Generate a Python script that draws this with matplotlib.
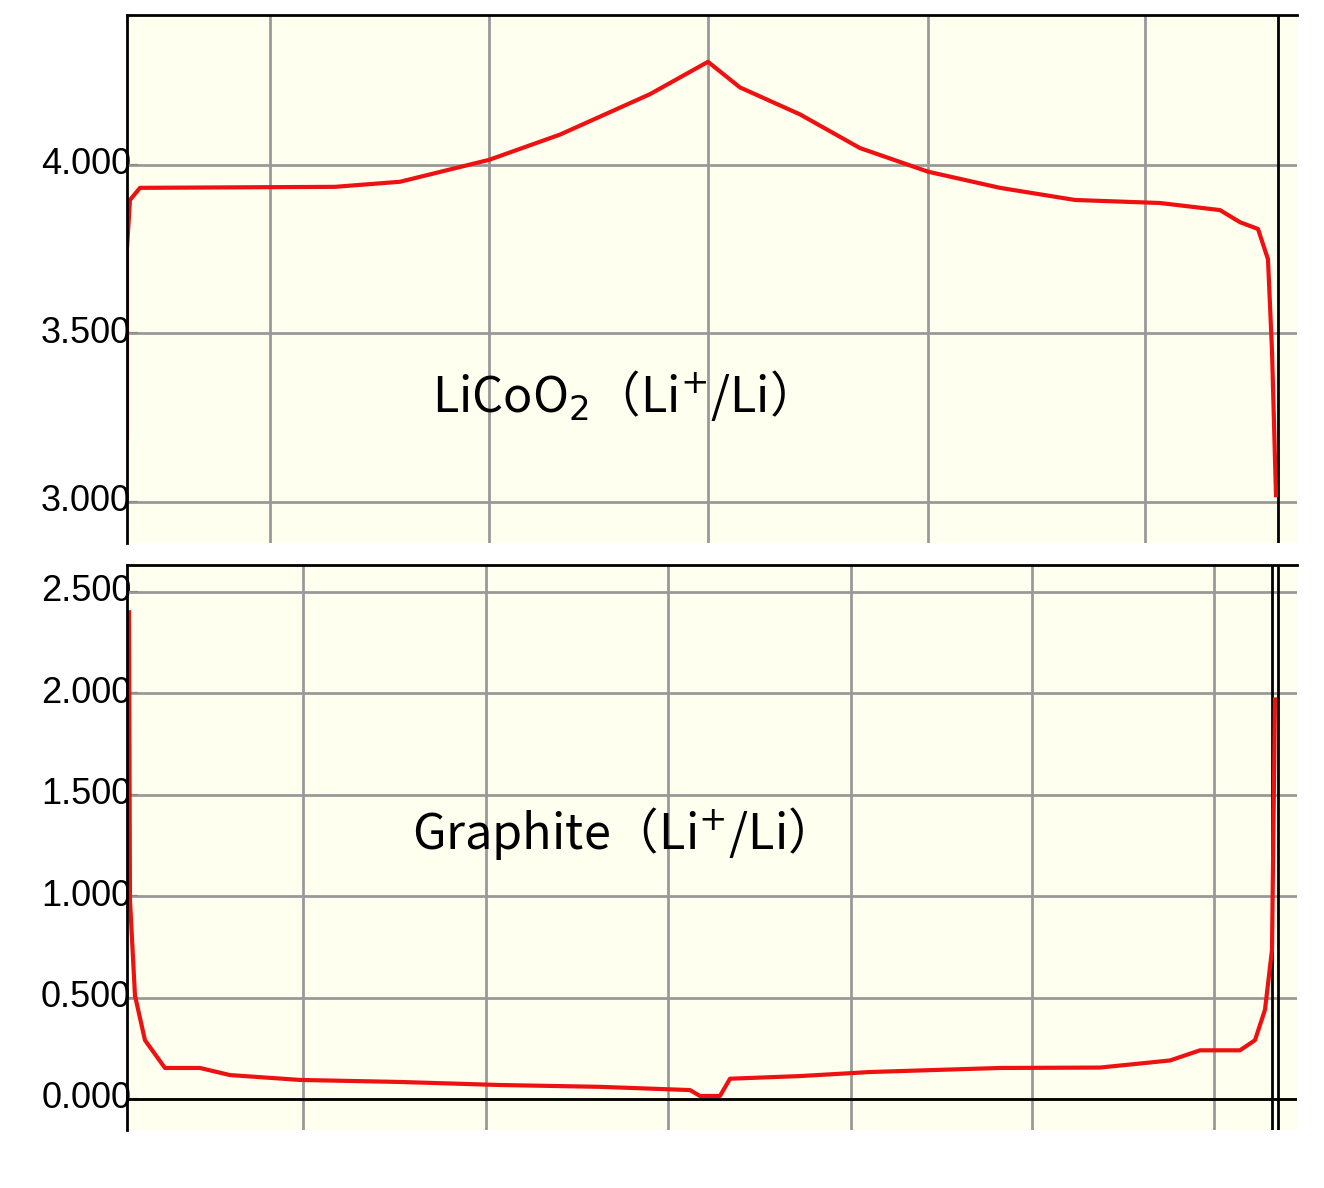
import matplotlib
matplotlib.use("Agg")
import matplotlib.pyplot as plt

top_x = [0, 0, 3, 13, 208, 273, 362, 433, 523, 581, 613, 673, 733, 801, 873, 948, 1033, 1093, 1113, 1131, 1141, 1145, 1149]
top_y = [3.19, 3.75, 3.896, 3.932, 3.935, 3.95, 4.015, 4.09, 4.21, 4.306, 4.23, 4.15, 4.05, 3.98, 3.932, 3.896, 3.887, 3.866, 3.83, 3.81, 3.72, 3.45, 3.02]
bot_x = [2, 3, 8, 18, 38, 73, 103, 173, 273, 373, 473, 563, 573, 593, 603, 673, 743, 873, 973, 1043, 1073, 1113, 1128, 1138, 1145, 1148]
bot_y = [2.40, 0.98, 0.51, 0.29, 0.153, 0.153, 0.118, 0.094, 0.084, 0.069, 0.06, 0.044, 0.015, 0.015, 0.10, 0.113, 0.133, 0.153, 0.155, 0.19, 0.24, 0.24, 0.29, 0.44, 0.735, 1.97]
top_grid_x = [143, 362, 581, 801, 1018]
bot_grid_x = [176, 359, 541, 724, 905, 1087]
top_yticks = [3.0, 3.5, 4.0]
bot_yticks = [0.0, 0.5, 1.0, 1.5, 2.0, 2.5]

bg = "#fffff0"
fig = plt.figure(figsize=(13.24, 11.88), dpi=100)
ax1 = fig.add_axes([0.0959, 0.5429, 0.8837, 0.4445])
ax2 = fig.add_axes([0.0959, 0.0488, 0.8837, 0.4756])

for ax, gx, yt, lim in [(ax1, top_grid_x, top_yticks, (2.878, 4.445)),
                        (ax2, bot_grid_x, bot_yticks, (-0.153, 2.633))]:
    ax.set_facecolor(bg)
    ax.set_xlim(0, 1170)
    ax.set_ylim(*lim)
    for g in gx:
        ax.axvline(g, color="#999999", lw=2)
    for t in yt:
        ax.axhline(t, color="#999999", lw=2)
    ax.set_xticks([])
    ax.set_yticks(yt)
    ax.set_yticklabels([f"{t:.3f}" for t in yt], fontfamily="Liberation Sans", fontsize=26, va="top")
    ax.tick_params(axis="y", direction="in", length=8, width=1.5, pad=-3)
    for lbl in ax.get_yticklabels():
        lbl.set_verticalalignment("center")
    for s in ["right", "bottom"]:
        ax.spines[s].set_visible(False)
    ax.spines["top"].set_linewidth(2)
    ax.spines["left"].set_linewidth(2)
    ax.axvline(1151, color="black", lw=2)

ax2.axvline(1145, color="black", lw=2)
ax2.axhline(0, color="black", lw=2)

ax1.plot(top_x, top_y, color="#ee1111", lw=3)
ax2.plot(bot_x, bot_y, color="#ee1111", lw=3)

fam = ["Noto Sans CJK SC", "DejaVu Sans"]
ax1.text(0.412, 0.28, "LiCoO$_2$（Li$^{+}$/Li）", transform=ax1.transAxes, ha="center",
         va="center", fontsize=35, family=fam)
ax2.text(0.411, 0.525, "Graphite（Li$^{+}$/Li）", transform=ax2.transAxes, ha="center",
         va="center", fontsize=35, family=fam)

fig.savefig("out.png", dpi=100, facecolor="white")
